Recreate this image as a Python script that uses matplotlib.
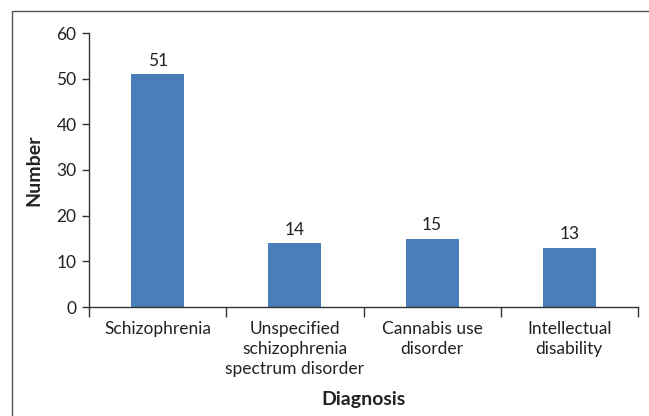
import matplotlib
matplotlib.use('Agg')
import matplotlib.pyplot as plt
from matplotlib.patches import Rectangle
import numpy as np

# Datos
categories = ['Schizophrenia', 'Unspecified\nschizophrenia\nspectrum disorder',
              'Cannabis use\ndisorder', 'Intellectual\ndisability']
values = [51, 14, 15, 13]

plt.rcParams['font.family'] = ['Lato', 'DejaVu Sans']

fig = plt.figure(figsize=(6.49, 4.16), dpi=100)
ax = fig.add_axes([89/649, 1 - 307/416, (638 - 89)/649, (307 - 33)/416])

# Borde exterior
fig.patches.append(Rectangle((12/649, -0.1), 1.0, (416 - 11)/416 + 0.1,
                             transform=fig.transFigure, fill=False,
                             edgecolor='#555555', linewidth=1.0))

x = np.arange(len(categories))
bars = ax.bar(x, values, width=0.385, color='#4a7ebb')

for bar in bars:
    h = bar.get_height()
    ax.text(bar.get_x() + bar.get_width()/2, h + 1.2, f'{int(h)}',
            ha='center', va='bottom', fontsize=12.5, color='#222222')

ax.set_xlim(-0.5, len(categories) - 0.5)
ax.set_ylim(0, 60)
ax.set_yticks(range(0, 61, 10))
ax.set_xticks(x)
ax.set_xticklabels(categories, fontsize=12.5, color='#222222', linespacing=1.3)
ax.set_xticks(np.arange(-0.5, len(categories), 1), minor=True)
ax.tick_params(axis='x', which='major', length=0, pad=10)
ax.tick_params(axis='x', which='minor', length=7, width=1, color='#333333')
ax.tick_params(axis='y', length=5, width=1, color='#333333', labelsize=12.5,
               labelcolor='#222222', pad=4)

for side in ['top', 'right']:
    ax.spines[side].set_visible(False)
for side in ['left', 'bottom']:
    ax.spines[side].set_color('#333333')
    ax.spines[side].set_linewidth(1)

ax.set_ylabel('Number', fontsize=14, fontweight='bold', color='#222222', labelpad=10)
ax.set_xlabel('Diagnosis', fontsize=14, fontweight='bold', color='#222222', labelpad=10)

fig.savefig('out.png', dpi=100)
